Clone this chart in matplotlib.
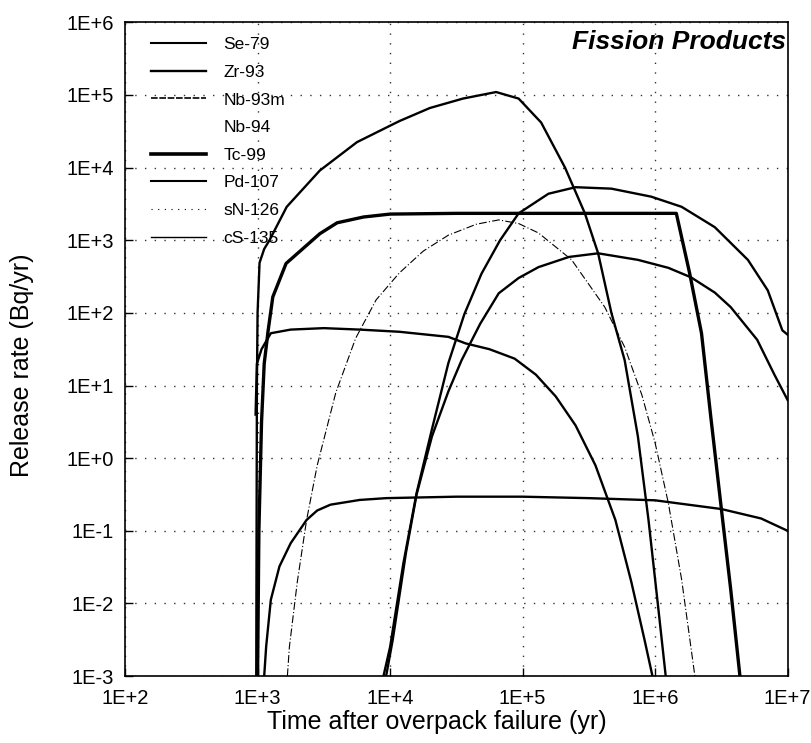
import numpy as np
import matplotlib.pyplot as plt
from matplotlib.lines import Line2D

plt.rcParams['font.family'] = ['Liberation Sans', 'DejaVu Sans']

# values, stored as log10(time) / log10(rate)
cs135_t = [2.99, 2.995, 3.0, 3.015, 3.05, 3.09, 3.22, 3.47, 3.75, 4.07, 4.3, 4.55, 4.80,
           4.97, 5.14, 5.32, 5.47, 5.57, 5.67, 5.77, 5.87, 5.95, 6.02, 6.08]
cs135_r = [-3.0, 1.0, 2.0, 2.69, 2.88, 3.0, 3.46, 3.96, 4.35, 4.64, 4.82, 4.95, 5.04,
           4.95, 4.62, 4.0, 3.37, 2.82, 2.0, 1.35, 0.3, -0.85, -2.0, -3.0]

tc99_t = [3.0, 3.01, 3.03, 3.05, 3.08, 3.115, 3.215, 3.47, 3.6, 3.8, 4.0, 4.5, 5.5,
          6.16, 6.26, 6.35, 6.42, 6.5, 6.57, 6.64]
tc99_r = [-3.0, -1.0, 0.5, 1.3, 1.76, 2.22, 2.68, 3.09, 3.24, 3.32, 3.36, 3.37, 3.37,
          3.37, 2.55, 1.72, 0.57, -0.7, -1.8, -3.0]

zr93_t = [3.95, 4.0, 4.1, 4.2, 4.316, 4.44, 4.56, 4.69, 4.83, 4.97, 5.195, 5.4, 5.67,
          5.97, 6.2, 6.45, 6.7, 6.85, 6.96, 7.0]
zr93_r = [-3.0, -2.6, -1.45, -0.48, 0.4, 1.31, 1.98, 2.54, 3.0, 3.37, 3.64, 3.73, 3.71,
          3.6, 3.46, 3.18, 2.73, 2.31, 1.76, 1.7]

nb93m_t = [3.97, 4.02, 4.12, 4.2, 4.316, 4.44, 4.54, 4.68, 4.82, 4.97, 5.12, 5.35, 5.57,
           5.87, 6.1, 6.27, 6.45, 6.57, 6.77, 6.9, 7.0]
nb93m_r = [-3.0, -2.5, -1.3, -0.5, 0.3, 0.92, 1.35, 1.85, 2.27, 2.48, 2.63, 2.77, 2.82,
           2.73, 2.62, 2.49, 2.28, 2.08, 1.63, 1.15, 0.8]

sn126_t = [3.225, 3.24, 3.3, 3.37, 3.45, 3.59, 3.74, 3.895, 4.07, 4.25, 4.44, 4.65, 4.82,
           4.97, 5.12, 5.37, 5.62, 5.77, 5.9, 6.0, 6.1, 6.2, 6.3]
sn126_r = [-3.0, -2.6, -1.7, -0.85, -0.1, 0.9, 1.65, 2.18, 2.55, 2.85, 3.07, 3.22, 3.28,
           3.23, 3.10, 2.73, 2.08, 1.53, 0.87, 0.21, -0.62, -1.67, -3.0]

se79_t = [2.985, 2.995, 3.03, 3.1, 3.25, 3.5, 3.77, 4.07, 4.44, 4.57, 4.75, 4.94, 5.1,
          5.25, 5.4, 5.55, 5.7, 5.82, 5.92, 5.98]
se79_r = [0.6, 1.3, 1.5, 1.72, 1.77, 1.79, 1.77, 1.74, 1.67, 1.58, 1.5, 1.37, 1.15,
          0.85, 0.45, -0.1, -0.85, -1.7, -2.5, -3.0]

pd107_t = [3.05, 3.065, 3.1, 3.165, 3.25, 3.37, 3.45, 3.55, 3.77, 3.97, 4.5, 5.0, 5.5,
           6.0, 6.5, 6.8, 7.0]
pd107_r = [-3.0, -2.59, -1.95, -1.49, -1.17, -0.85, -0.72, -0.64, -0.575, -0.55, -0.53,
           -0.53, -0.55, -0.58, -0.7, -0.83, -1.0]

xticks = [1e2, 1e3, 1e4, 1e5, 1e6, 1e7]
xticklabels = ['1E+2', '1E+3', '1E+4', '1E+5', '1E+6', '1E+7']
yticks = [1e-3, 1e-2, 1e-1, 1e0, 1e1, 1e2, 1e3, 1e4, 1e5, 1e6]
yticklabels = ['1E-3', '1E-2', '1E-1', '1E+0', '1E+1', '1E+2', '1E+3', '1E+4', '1E+5', '1E+6']

fig = plt.figure(figsize=(8.12, 7.43), dpi=100)
ax = fig.add_axes([0.154, 0.090, 0.816, 0.880])


def p(t, r):
    return 10 ** np.array(t), 10 ** np.array(r)


ax.plot(*p(cs135_t, cs135_r), color='black', lw=1.7)
ax.plot(*p(tc99_t, tc99_r), color='black', lw=2.4)
ax.plot(*p(zr93_t, zr93_r), color='black', lw=1.7)
ax.plot(*p(nb93m_t, nb93m_r), color='black', lw=1.7)
ax.plot(*p(sn126_t, sn126_r), color='black', lw=0.8, linestyle=(0, (7, 2, 1, 2)))
ax.plot(*p(se79_t, se79_r), color='black', lw=1.7)
ax.plot(*p(pd107_t, pd107_r), color='black', lw=1.7)

ax.set_xscale('log')
ax.set_yscale('log')
ax.set_xlim(1e2, 1e7)
ax.set_ylim(1e-3, 1e6)
ax.set_xticks(xticks)
ax.set_xticklabels(xticklabels)
ax.set_yticks(yticks)
ax.set_yticklabels(yticklabels)
ax.minorticks_off()
ax.tick_params(direction='in', length=6, width=1, labelsize=14.5)
ax.tick_params(axis='y', pad=8)
ax.tick_params(axis='x', pad=9)
ax.grid(True, color='black', linestyle=(0, (1, 6)), linewidth=1.0, alpha=0.8)
for s in ax.spines.values():
    s.set_linewidth(1.2)

ax.set_xlabel('Time after overpack failure (yr)', fontsize=18)
ax.set_ylabel('Release rate (Bq/yr)', fontsize=18)
ax.xaxis.set_label_coords(0.47, -0.052)
ax.yaxis.set_label_coords(-0.138, 0.475)

ax.text(0.997, 0.988, 'Fission Products', transform=ax.transAxes, ha='right', va='top',
        fontsize=19, fontweight='bold', style='italic')

# legend
handles = [
    Line2D([], [], color='black', lw=1.5),
    Line2D([], [], color='black', lw=1.7),
    Line2D([], [], color='black', lw=1.2, linestyle=(0, (4, 1))),
    Line2D([], [], color='white', lw=1.5),
    Line2D([], [], color='black', lw=2.6),
    Line2D([], [], color='black', lw=1.5),
    Line2D([], [], color='black', lw=0.8, linestyle=(0, (1, 5))),
    Line2D([], [], color='black', lw=1.0),
]
labels = ['Se-79', 'Zr-93', 'Nb-93m', 'Nb-94', 'Tc-99', 'Pd-107', 'sN-126', 'cS-135']
leg = ax.legend(handles, labels, loc='upper left', bbox_to_anchor=(0.028, 0.988),
                frameon=False, fontsize=12.5, handlelength=3.2, handletextpad=1.0,
                labelspacing=0.72, borderaxespad=0)

fig.savefig('out.png', dpi=100)
